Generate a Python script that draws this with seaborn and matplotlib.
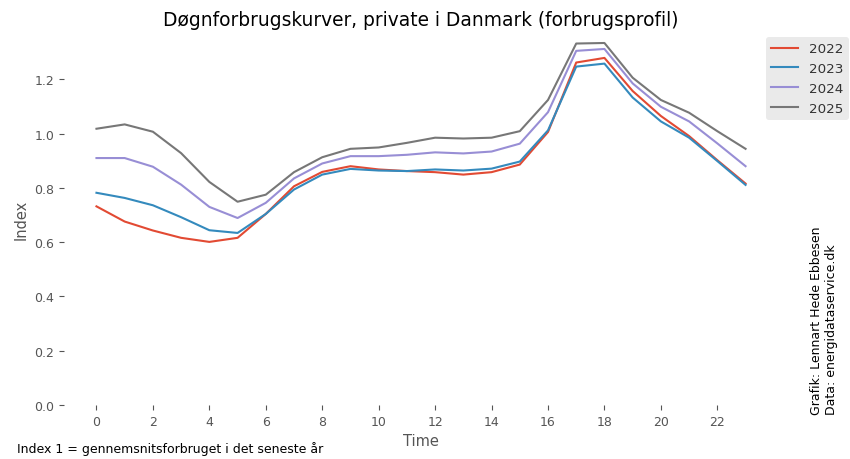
import matplotlib
matplotlib.use("Agg")
import matplotlib.pyplot as plt
import seaborn as sns
import pandas as pd

hours = list(range(24))
years = ["2022", "2023", "2024", "2025"]
v2022 = [0.732, 0.676, 0.643, 0.616, 0.601, 0.616, 0.704, 0.806, 0.859, 0.880, 0.868, 0.862,
         0.858, 0.849, 0.858, 0.886, 1.006, 1.262, 1.279, 1.157, 1.065, 0.991, 0.902, 0.816]
v2023 = [0.782, 0.763, 0.736, 0.692, 0.644, 0.634, 0.704, 0.794, 0.849, 0.870, 0.864, 0.862,
         0.868, 0.864, 0.871, 0.897, 1.012, 1.247, 1.258, 1.133, 1.045, 0.985, 0.899, 0.811]
v2024 = [0.910, 0.910, 0.878, 0.812, 0.730, 0.689, 0.745, 0.835, 0.890, 0.917, 0.917, 0.922,
         0.931, 0.927, 0.934, 0.963, 1.079, 1.305, 1.312, 1.185, 1.099, 1.045, 0.964, 0.880]
v2025 = [1.018, 1.034, 1.007, 0.928, 0.822, 0.749, 0.775, 0.858, 0.913, 0.944, 0.949, 0.966,
         0.985, 0.982, 0.985, 1.009, 1.124, 1.332, 1.334, 1.206, 1.124, 1.077, 1.009, 0.944]
colors = ["#E24A33", "#348ABD", "#988ED5", "#777777"]

rows = []
for y, vals in zip(years, [v2022, v2023, v2024, v2025]):
    for h, v in zip(hours, vals):
        rows.append({"Time": h, "Index": v, "year": y})
df = pd.DataFrame(rows)

plt.style.use("ggplot")
plt.rcParams["font.family"] = ["DejaVu Sans"]

fig = plt.figure(figsize=(8.5, 4.6), dpi=100)
ax = fig.add_axes([0.0753, 0.1174, 0.8400, 0.8086])
sns.lineplot(data=df, x="Time", y="Index", hue="year", palette=colors, linewidth=1.5, ax=ax)
ax.set_ylim(bottom=0)
ax.set_facecolor("white")
ax.grid(False)
for s in ax.spines.values():
    s.set_visible(False)
ax.set_xticks(range(0, 24, 2))
ax.set_title("Døgnforbrugskurver, private i Danmark (forbrugsprofil)", fontsize=13.4,
             color="black", pad=6)
ax.set_xlabel("Time", fontsize=10.5, color="#555555")
ax.set_ylabel("Index", fontsize=10.5, color="#555555")
ax.tick_params(colors="#555555", labelsize=9)

leg = ax.legend(loc="upper left", bbox_to_anchor=(766 / 850, 1 - 38 / 460),
                bbox_transform=fig.transFigure, borderaxespad=0, fontsize=9.7,
                facecolor="#E5E5E5", edgecolor="none", framealpha=0.8)
for t in leg.get_texts():
    t.set_color("#333333")

fig.text(0.986, 0.098, "Grafik: Lennart Hede Ebbesen\nData: energidataservice.dk",
         rotation=90, ha="right", va="bottom", multialignment="left",
         fontsize=9, color="black")
fig.text(0.02, 0.024, "Index 1 = gennemsnitsforbruget i det seneste år",
         ha="left", va="center", fontsize=9, color="black")

fig.savefig("out.png", dpi=100)
